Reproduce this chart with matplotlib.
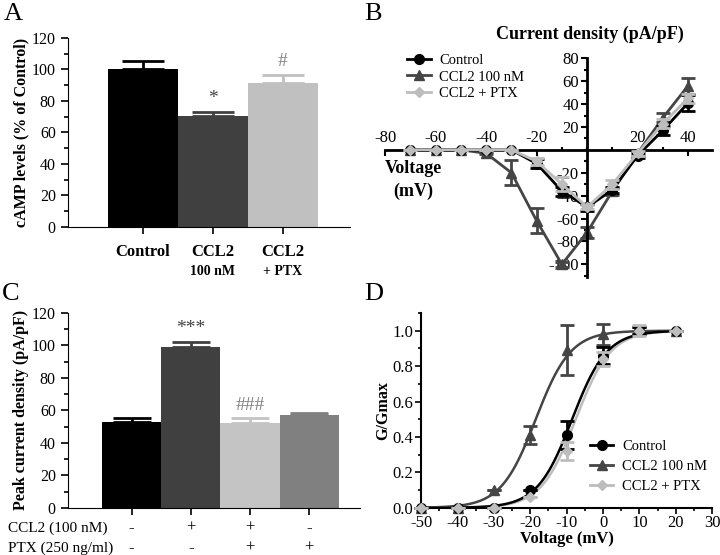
import numpy as np
import matplotlib
matplotlib.use("Agg")
import matplotlib.pyplot as plt
from matplotlib.ticker import MultipleLocator, FormatStrFormatter
import matplotlib.transforms as mtransforms

plt.rcParams['font.family'] = ['Liberation Serif', 'DejaVu Serif']
plt.rcParams['font.size'] = 11.5
plt.rcParams['axes.unicode_minus'] = False

# ---- panel A data ----
a_groups = ["Control", "CCL2", "CCL2"]
a_sub = ["", "100 nM", "+ PTX"]
a_vals = [100, 70.5, 91]
a_err = [5, 2.5, 5.5]
a_colors = ["#000000", "#404040", "#c0c0c0"]

# ---- panel B data (I-V) ----
b_volt = [-70, -60, -50, -40, -30, -20, -10, 0, 10, 20, 30, 40]
b_ctrl = [0, 0, 0, 0, 0, -12, -36, -50, -35, -5, 17, 41]
b_ctrl_err = [0, 0, 0, 0, 0, 4, 4, 3, 3, 2, 4, 7]
b_ccl2 = [0, 0, 0, -3, -20, -62, -100, -72, -36, -3, 28, 56]
b_ccl2_err = [0, 0, 0, 1, 11, 11, 2, 5, 3, 2, 4, 7]
b_ptx = [0, 0, 0, 0, 0, -10, -30, -50, -30, -3, 23, 45]
b_ptx_err = [0, 0, 0, 0, 0, 3, 6, 2, 4, 2, 4, 4]

# ---- panel C data ----
c_vals = [53, 99, 52, 57]
c_err = [2.5, 3, 3.5, 1.5]
c_colors = ["#000000", "#404040", "#c4c4c4", "#808080"]
c_ccl2 = ["-", "+", "+", "-"]
c_ptx = ["-", "-", "+", "+"]

# ---- panel D data (activation) ----
d_volt = [-50, -40, -30, -20, -10, 0, 10, 20]
d_ctrl = [0, 0, 0, 0.10, 0.41, 0.86, 1.0, 1.0]
d_ctrl_err = [0, 0, 0, 0, 0.08, 0.05, 0.02, 0]
d_ccl2 = [0, 0, 0.10, 0.41, 0.89, 0.98, 1.0, 1.0]
d_ccl2_err = [0, 0, 0, 0.05, 0.14, 0.06, 0.02, 0]
d_ptx = [0, 0, 0, 0.06, 0.32, 0.84, 1.0, 1.0]
d_ptx_err = [0, 0, 0, 0, 0.05, 0.04, 0.03, 0]
# Boltzmann fit parameters (V1/2, slope)
d_fit = {"ctrl": (-8.5, 4.8), "ccl2": (-18.5, 4.8), "ptx": (-7.5, 4.8)}

col_ctrl, col_ccl2, col_ptx = "#000000", "#454545", "#bdbdbd"
labels = ["Control", "CCL2 100 nM", "CCL2 + PTX"]

fig = plt.figure(figsize=(7.2, 5.55), dpi=100)

def panel_letter(x, y, s):
    fig.text(x / 720, 1 - y / 555, s, fontsize=19, va='center', ha='left')

def proxies():
    h1, = plt.plot([], [], color=col_ctrl, marker='o', ms=7, lw=2)
    h2, = plt.plot([], [], color=col_ccl2, marker='^', ms=7, lw=2)
    h3, = plt.plot([], [], color=col_ptx, marker='D', ms=5.5, lw=2)
    return [h1, h2, h3]

# ================= A =================
axA = fig.add_axes([0.094, 0.591, 0.392, 0.341])
xa = np.arange(len(a_vals))
axA.bar(xa, a_vals, width=1.0, color=a_colors, zorder=2)
for i in range(len(a_vals)):
    axA.errorbar(xa[i], a_vals[i], yerr=[[0], [a_err[i]]], color=a_colors[i],
                 capsize=15, elinewidth=2, capthick=2, zorder=1)
axA.text(1, a_vals[1] + a_err[1] + 3, "*", ha='center', va='bottom', fontsize=14, color="#404040")
axA.text(2, a_vals[2] + a_err[2] + 3, "#", ha='center', va='bottom', fontsize=14, color="#808080")
axA.set_xlim(-1.07, 2.96)
axA.set_ylim(0, 120)
axA.yaxis.set_major_locator(MultipleLocator(20))
axA.yaxis.set_minor_locator(MultipleLocator(10))
axA.set_xticks(xa)
axA.set_xticklabels([])
axA.spines['top'].set_visible(False)
axA.spines['right'].set_visible(False)
axA.tick_params(direction='out', length=5, width=1.2)
axA.tick_params(which='minor', length=3, width=1.2)
axA.set_ylabel("cAMP levels (% of Control)", fontweight='bold', fontsize=11.5, labelpad=2)
for i in range(len(a_vals)):
    axA.text(xa[i], -0.09, a_groups[i], transform=axA.get_xaxis_transform(),
             ha='center', va='top', fontweight='bold', fontsize=12)
    if a_sub[i]:
        axA.text(xa[i], -0.20, a_sub[i], transform=axA.get_xaxis_transform(),
                 ha='center', va='top', fontweight='bold', fontsize=10)
panel_letter(4, 14, "A")

# ================= B =================
axB = fig.add_axes([0.535, 0.501, 0.454, 0.394])
axB.errorbar(b_volt, b_ctrl, yerr=b_ctrl_err, color=col_ctrl, marker='o', ms=7,
             lw=2, capsize=5, elinewidth=2, capthick=2, zorder=3)
axB.errorbar(b_volt, b_ccl2, yerr=b_ccl2_err, color=col_ccl2, marker='^', ms=7,
             lw=2, capsize=5, elinewidth=2, capthick=2, zorder=2)
axB.errorbar(b_volt, b_ptx, yerr=b_ptx_err, color=col_ptx, marker='D', ms=5.5,
             lw=2, capsize=5, elinewidth=2, capthick=2, zorder=4)
axB.set_xlim(-80, 49.5)
axB.set_ylim(-111, 80)
axB.spines['right'].set_visible(False)
axB.spines['bottom'].set_visible(False)
axB.spines['left'].set_position(('data', 0))
axB.spines['top'].set_position(('data', 0))
axB.spines['left'].set_linewidth(2)
axB.spines['top'].set_linewidth(2)
axB.xaxis.set_ticks_position('top')
axB.set_xticks([-80, -60, -40, -20, 20, 40])
axB.xaxis.set_minor_locator(MultipleLocator(10))
axB.set_yticks([-100, -80, -60, -40, -20, 20, 40, 60, 80])
axB.yaxis.set_minor_locator(MultipleLocator(10))
axB.tick_params(axis='y', direction='out', length=4, width=1.5, pad=2)
axB.tick_params(axis='y', which='minor', length=2.5, width=1.5)
axB.tick_params(axis='x', direction='in', length=4, width=1.5, pad=3)
axB.tick_params(axis='x', which='minor', length=2.5, width=1.5)
for lab in axB.get_xticklabels() + axB.get_yticklabels():
    lab.set_fontsize(12)
axB.text(0.627, 1.07, "Current density (pA/pF)", transform=axB.transAxes,
         ha='center', va='bottom', fontweight='bold', fontsize=13)
fig.text(413 / 720, 1 - 180 / 555, "Voltage\n(mV)", ha='center', va='center',
         fontweight='bold', fontsize=13, linespacing=1.45)
axB.legend(handles=proxies(), labels=labels, loc='upper left', bbox_to_anchor=(0.05, 1.045),
           frameon=False, fontsize=10.5, handlelength=1.6, handletextpad=0.6,
           borderaxespad=0.0, labelspacing=0.2)
panel_letter(364, 14, "B")

# ================= C =================
axC = fig.add_axes([0.094, 0.085, 0.406, 0.351])
xc = np.arange(len(c_vals))
axC.bar(xc, c_vals, width=1.0, color=c_colors, zorder=2)
for i in range(len(c_vals)):
    axC.errorbar(xc[i], c_vals[i], yerr=[[0], [c_err[i]]], color=c_colors[i],
                 capsize=14, elinewidth=2, capthick=2, zorder=1)
axC.text(1, c_vals[1] + c_err[1] + 3, "***", ha='center', va='bottom', fontsize=14, color="#404040")
axC.text(2, c_vals[2] + c_err[2] + 2, "###", ha='center', va='bottom', fontsize=14, color="#808080")
axC.set_xlim(-1.08, 3.86)
axC.set_ylim(0, 120)
axC.yaxis.set_major_locator(MultipleLocator(20))
axC.yaxis.set_minor_locator(MultipleLocator(10))
axC.set_xticks(xc)
axC.set_xticklabels([])
axC.spines['top'].set_visible(False)
axC.spines['right'].set_visible(False)
axC.tick_params(direction='out', length=5, width=1.2)
axC.tick_params(which='minor', length=3, width=1.2)
axC.set_ylabel("Peak current density (pA/pF)", fontweight='bold', fontsize=11.5, labelpad=2)
trC = mtransforms.blended_transform_factory(axC.transData, fig.transFigure)
fig.text(8 / 720, 1 - 528 / 555, "CCL2 (100 nM)", ha='left', va='center', fontsize=11)
fig.text(8 / 720, 1 - 548 / 555, "PTX (250 ng/ml)", ha='left', va='center', fontsize=11)
for i in range(len(c_vals)):
    axC.text(xc[i], 1 - 528 / 555, c_ccl2[i], transform=trC, ha='center', va='center', fontsize=12)
    axC.text(xc[i], 1 - 548 / 555, c_ptx[i], transform=trC, ha='center', va='center', fontsize=12)
panel_letter(2, 294, "C")

# ================= D =================
axD = fig.add_axes([0.585, 0.085, 0.404, 0.351])
vfit = np.linspace(-50, 20, 300)
for key, col in (("ccl2", col_ccl2), ("ptx", col_ptx), ("ctrl", col_ctrl)):
    vh, k = d_fit[key]
    axD.plot(vfit, 1 / (1 + np.exp((vh - vfit) / k)), color=col, lw=1.8, zorder=1)
axD.errorbar(d_volt, d_ccl2, yerr=d_ccl2_err, color=col_ccl2, marker='^', ms=7, ls='none',
             capsize=5, elinewidth=2, capthick=2, clip_on=False, zorder=2)
axD.errorbar(d_volt, d_ctrl, yerr=d_ctrl_err, color=col_ctrl, marker='o', ms=7, ls='none',
             capsize=5, elinewidth=2, capthick=2, clip_on=False, zorder=3)
axD.errorbar(d_volt, d_ptx, yerr=d_ptx_err, color=col_ptx, marker='D', ms=5.5, ls='none',
             capsize=5, elinewidth=2, capthick=2, clip_on=False, zorder=4)
axD.legend(handles=proxies(), labels=labels, loc='lower left', bbox_to_anchor=(0.56, 0.046),
           frameon=False, fontsize=10.5, handlelength=1.6, handletextpad=0.6,
           borderaxespad=0.0, labelspacing=0.45)
axD.set_xlim(-50, 30)
axD.set_ylim(0, 1.1)
axD.xaxis.set_major_locator(MultipleLocator(10))
axD.xaxis.set_minor_locator(MultipleLocator(5))
axD.yaxis.set_major_locator(MultipleLocator(0.2))
axD.yaxis.set_minor_locator(MultipleLocator(0.1))
axD.yaxis.set_major_formatter(FormatStrFormatter('%.1f'))
axD.spines['top'].set_visible(False)
axD.spines['right'].set_visible(False)
axD.spines['left'].set_linewidth(1.5)
axD.spines['bottom'].set_linewidth(1.5)
axD.tick_params(direction='out', length=4, width=1.2, labelsize=12, pad=1.5)
axD.tick_params(which='minor', length=2.5, width=1.2)
axD.set_xlabel("Voltage (mV)", fontweight='bold', fontsize=12, labelpad=0)
axD.set_ylabel("G/Gmax", fontweight='bold', fontsize=11.5, labelpad=1)
panel_letter(364, 294, "D")

fig.savefig("out.png", dpi=100)
